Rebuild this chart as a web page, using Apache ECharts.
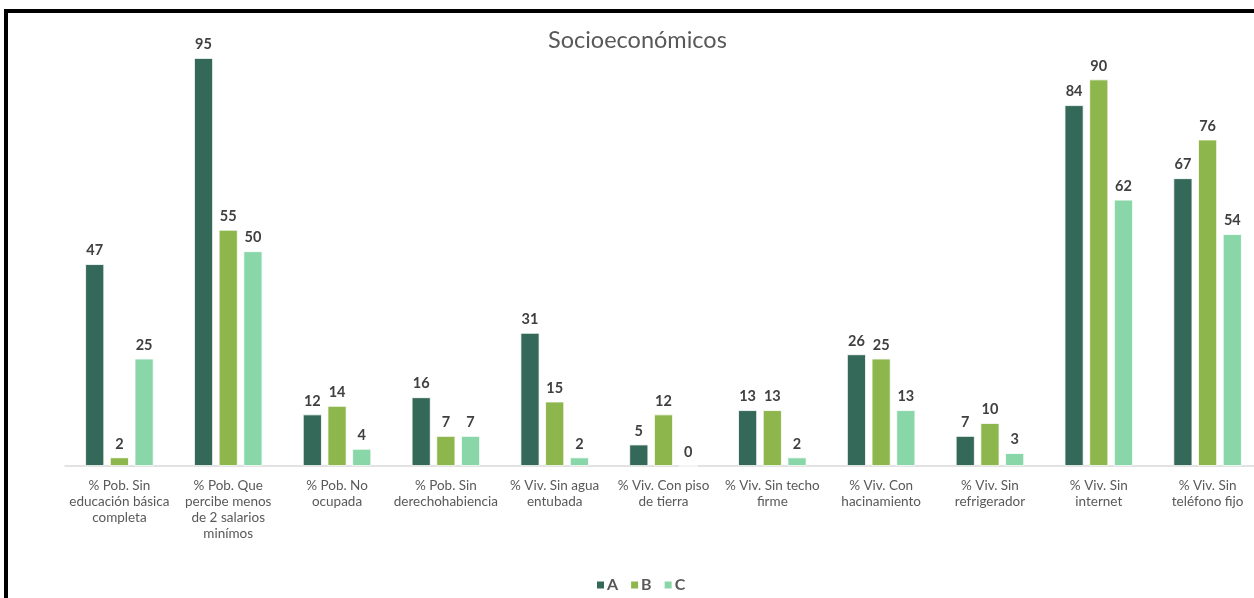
<!DOCTYPE html>
<html>
<head>
<meta charset="utf-8">
<script src="https://cdn.jsdelivr.net/npm/echarts@6/dist/echarts.min.js"></script>
<style>
html,body{margin:0;padding:0;background:#fff;overflow:hidden;width:1254px;height:598px;}
#chart{width:1280px;height:598px;}
</style>
</head>
<body>
<div id="chart"></div>
<script>
const categories = [
  "% Pob. Sin\neducación básica\ncompleta",
  "% Pob. Que\npercibe menos\nde 2 salarios\nminímos",
  "% Pob. No\nocupada",
  "% Pob. Sin\nderechohabiencia",
  "% Viv. Sin agua\nentubada",
  "% Viv. Con piso\nde tierra",
  "% Viv. Sin techo\nfirme",
  "% Viv. Con\nhacinamiento",
  "% Viv. Sin\nrefrigerador",
  "% Viv. Sin\ninternet",
  "% Viv. Sin\nteléfono fijo"
];
const seriesNames = ["A", "B", "C"];
const valuesA = [47, 95, 12, 16, 31, 5, 13, 26, 7, 84, 67];
const valuesB = [2, 55, 14, 7, 15, 12, 13, 25, 10, 90, 76];
const valuesC = [25, 50, 4, 7, 2, 0, 2, 13, 3, 62, 54];
const colors = ["#346858", "#8db64c", "#89d6a9"];

const font = "Lato, 'Open Sans', sans-serif";
const chart = echarts.init(document.getElementById('chart'), null, {renderer: 'canvas'});

function mk(name, data, color) {
  return {
    name: name,
    type: 'bar',
    data: data,
    barWidth: 19,
    barGap: '30%',
    itemStyle: {color: color, borderColor: '#ffffff', borderWidth: 0.8},
    label: {
      show: true,
      position: 'top',
      distance: 6,
      color: '#404040',
      fontFamily: font,
      fontWeight: 'bold',
      fontSize: 14.5
    }
  };
}

chart.setOption({
  animation: false,
  backgroundColor: '#ffffff',
  color: colors,
  title: {
    text: 'Socioeconómicos',
    left: 543,
    top: 23,
    textStyle: {fontFamily: font, fontWeight: 'normal', fontSize: 23.5, color: '#595959'}
  },
  legend: {
    data: seriesNames,
    left: 590,
    top: 572,
    itemWidth: 9,
    itemHeight: 9,
    itemGap: 11,
    icon: 'rect',
    textStyle: {fontFamily: font, fontWeight: 'bold', fontSize: 16, color: '#595959', padding: [0, 0, 0, -3]}
  },
  grid: {left: 65, top: 36.5, width: 1197, bottom: 132, containLabel: false},
  xAxis: {
    type: 'category',
    data: categories,
    axisLine: {lineStyle: {color: '#d9d9d9', width: 1.5}},
    axisTick: {show: false},
    axisLabel: {
      interval: 0,
      margin: 12,
      color: '#595959',
      fontFamily: font,
      fontSize: 13.5,
      lineHeight: 16
    }
  },
  yAxis: {
    type: 'value',
    min: 0,
    max: 100,
    show: false,
    splitLine: {show: false}
  },
  series: [
    mk(seriesNames[0], valuesA, colors[0]),
    mk(seriesNames[1], valuesB, colors[1]),
    mk(seriesNames[2], valuesC, colors[2])
  ],
  graphic: [{
    type: 'rect',
    silent: true,
    z: 100,
    shape: {x: 6, y: 11, width: 1400, height: 800},
    style: {fill: null, stroke: '#000000', lineWidth: 4}
  }]
});
</script>
</body>
</html>
